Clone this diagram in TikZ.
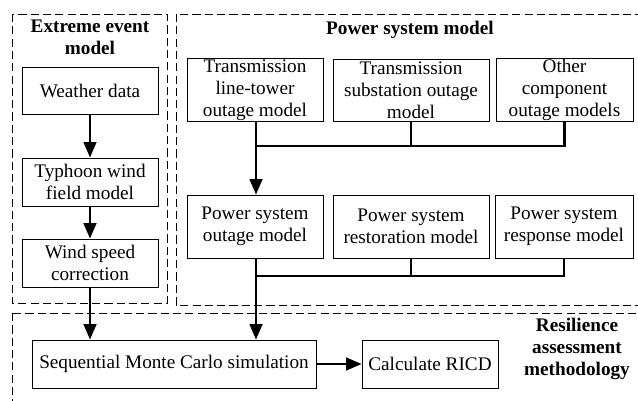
\documentclass[tikz,border=0pt]{standalone}
\usepackage{fontspec}
\setmainfont{Liberation Serif}
\usetikzlibrary{arrows.meta}

\tikzset{
  block/.style={draw, line width=0.8pt, align=center, inner sep=1pt,
    font=\fontsize{16.4}{18.8}\selectfont},
  area/.style={draw, line width=0.7pt, dash pattern=on 7pt off 3.5pt},
  title/.style={align=center, font=\fontsize{16.4}{18.8}\selectfont\bfseries},
  flow/.style={line width=1.8pt, -{Triangle[length=4.6mm,width=3.8mm]}},
  link/.style={line width=1.8pt}
}

\begin{document}
\begin{tikzpicture}[x=0.03cm, y=-0.03cm]

    \clip (0,0) rectangle (638,401);
    \def\px{0.03cm}

    % dashed areas
    \draw[area] (12,14) rectangle (167,303);
    \draw[area] (176,14) rectangle (660,305);
    \draw[area] (12,313) rectangle (660,420);

    \node[title] (tEvent) at (90,37) {Extreme event\\model};
    \node[title] (tPower) at (410,30) {Power system model};
    \node[title] (tAssess) at (577,349) {Resilience\\assessment\\methodology};

    % extreme event model
    \node[block, minimum width=136*\px, minimum height=47*\px] (weather) at (90,90.5) {Weather data};
    \node[block, minimum width=136*\px, minimum height=48*\px] (typhoon) at (90,182) {Typhoon wind\\field model};
    \node[block, minimum width=136*\px, minimum height=48*\px] (wind) at (90,263) {Wind speed\\correction};

    % power system model
    \node[block, minimum width=136*\px, minimum height=62*\px] (tline) at (255,90) {Transmission\\line-tower\\outage model};
    \node[block, minimum width=156*\px, minimum height=62*\px] (tsub) at (411,90) {Transmission\\substation outage\\model};
    \node[block, minimum width=137*\px, minimum height=62*\px] (other) at (564.5,90) {Other\\component\\outage models};

    \node[block, minimum width=136*\px, minimum height=63*\px] (pout) at (255,226.5) {Power system\\outage model};
    \node[block, minimum width=156*\px, minimum height=63*\px] (prest) at (411,226.5) {Power system\\restoration model};
    \node[block, minimum width=138*\px, minimum height=63*\px] (presp) at (564,226.5) {Power system\\response model};

    % resilience assessment
    \node[block, minimum width=284*\px, minimum height=48*\px] (smc) at (174,364) {Sequential Monte Carlo simulation};
    \node[block, minimum width=136*\px, minimum height=48*\px] (ricd) at (430,364) {Calculate RICD};

    \coordinate (jTop) at (256,146);
    \coordinate (jBot) at (256,276);

    \draw[flow] (weather) -- (typhoon);
    \draw[flow] (typhoon) -- (wind);
    \draw[flow] (wind.south) -- (wind.south |- smc.north);

    \draw[link] (tline.south -| jTop) |- (other.south |- jTop) -- (other.south);
    \draw[link] (tsub.south) -- (tsub.south |- jTop);
    \draw[flow] (jTop) -- (jTop |- pout.north);

    \draw[link] (pout.south -| jBot) |- (presp.south |- jBot) -- (presp.south);
    \draw[link] (prest.south) -- (prest.south |- jBot);
    \draw[flow] (jBot) -- (jBot |- smc.north);

    \draw[flow] (smc) -- (ricd);

\end{tikzpicture}
\end{document}
